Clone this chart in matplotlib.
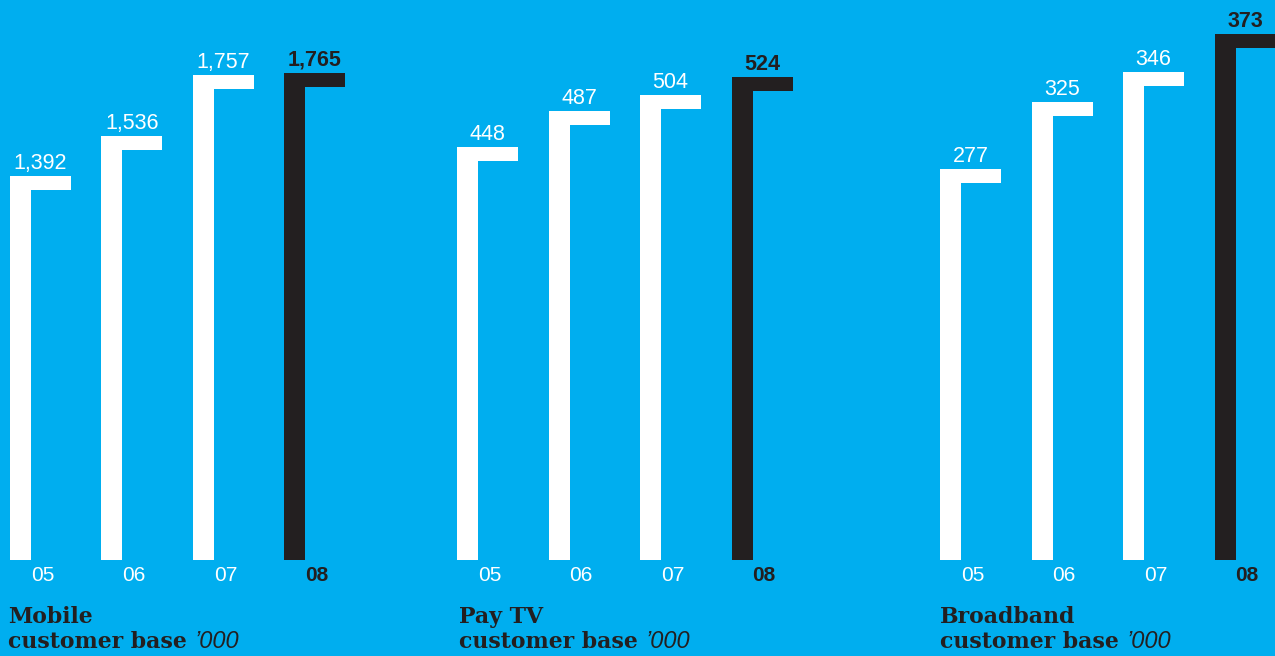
import matplotlib.pyplot as plt

BLUE = '#00aeef'
DARK = '#231f20'
W, H = 1275, 656

years = ['05', '06', '07', '08']
mobile = [1392, 1536, 1757, 1765]
pay_tv = [448, 487, 504, 524]
broadband = [277, 325, 346, 373]

# title, values, left edge of first bar (px), title x (px), y-axis top
panels = [
    ('Mobile', mobile, 10, 8, 2029),
    ('Pay TV', pay_tv, 457, 459, 607),
    ('Broadband', broadband, 940, 940, 397),
]

STEP = 91.5          # px between bars
STEM = 21 / STEP     # vertical stroke width
CAP = 61 / STEP      # horizontal cap width
CAP_PX = 14          # cap thickness in px
BASE = 560           # bar baseline, px from top

fig = plt.figure(figsize=(W / 100, H / 100), dpi=100, facecolor=BLUE)
renderer = fig.canvas.get_renderer()

for title, values, left, title_x, ymax in panels:
    ax = fig.add_axes([left / W, (H - BASE) / H, 360 / W, BASE / H])
    ax.set_xlim(0, 360 / STEP)
    ax.set_ylim(0, ymax)
    ax.axis('off')

    per_px = ymax / BASE
    colors = ['white'] * (len(values) - 1) + [DARK]
    xs = list(range(len(values)))
    cap_h = CAP_PX * per_px

    ax.bar(xs, values, width=STEM, align='edge', color=colors,
           linewidth=0, clip_on=False)
    ax.bar(xs, [cap_h] * len(values), bottom=[v - cap_h for v in values],
           width=CAP, align='edge', color=colors, linewidth=0, clip_on=False)

    for i, (v, yr) in enumerate(zip(values, years)):
        last = i == len(values) - 1
        c = DARK if last else 'white'
        w = 'bold' if last else 'normal'
        ax.annotate(f'{v:,}', (i + CAP / 2, v), xytext=(0, 5),
                    textcoords='offset points', ha='center', va='baseline',
                    color=c, fontweight=w, fontsize=15.5,
                    fontfamily='Liberation Sans', annotation_clip=False)
        ax.annotate(yr, (i + CAP / 2 + 0.02, 0), xytext=(0, -11),
                    textcoords='offset points', ha='center', va='center',
                    color=c, fontweight=w, fontsize=15,
                    fontfamily='Liberation Sans', annotation_clip=False)

    tx = title_x / W
    fig.text(tx, 1 - 623 / H, title, fontfamily='DejaVu Serif',
             fontweight='bold', fontsize=15.8, color=DARK, va='baseline')
    t = fig.text(tx, 1 - 648 / H, 'customer base', fontfamily='DejaVu Serif',
                 fontweight='bold', fontsize=15.8, color=DARK, va='baseline')
    bb = t.get_window_extent(renderer=renderer)
    fig.text((bb.x1 + 8) / W, 1 - 648 / H, '\u2019000',
             fontfamily='Liberation Sans', fontstyle='italic', fontsize=17,
             color=DARK, va='baseline')

fig.savefig('out.png', dpi=100, facecolor=BLUE)
